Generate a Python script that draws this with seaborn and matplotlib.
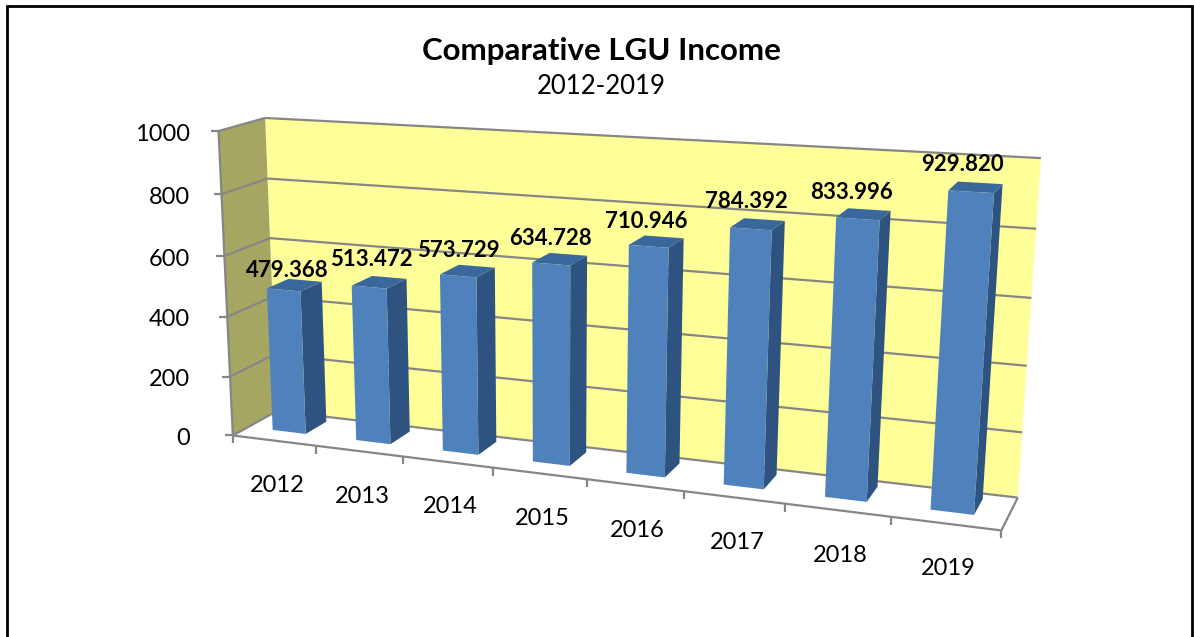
import numpy as np
import pandas as pd
import matplotlib
matplotlib.use("Agg")
import matplotlib.pyplot as plt
from matplotlib.patches import Polygon, Rectangle
from matplotlib.transforms import Transform, IdentityTransform
import seaborn as sns

years = ["2012", "2013", "2014", "2015", "2016", "2017", "2018", "2019"]
income = [479.368, 513.472, 573.729, 634.728, 710.946, 784.392, 833.996, 929.820]
value_ticks = [0, 200, 400, 600, 800, 1000]
title = "Comparative LGU Income"
subtitle = "2012-2019"

W, H = 1194, 637
sns.set_theme(style="white")
plt.rcParams["font.family"] = ["Lato", "DejaVu Sans"]

# --- camera: 3x4 projection fitted to the reference's box corners
# (category position, depth, value) -> reference pixel
anchors = [
    ((0, 0, 0), (237, 433)), ((0, 0, 1000), (215, 132)), ((0, 1, 1000), (269, 117)),
    ((0, 0, 1000), (215, 132)), ((0, 1, 1000), (269, 117)), ((0, 1, 0), (274, 413)),
    ((0, 1, 0), (274, 413)), ((8, 1, 1000), (1041, 158)), ((8, 1, 0), (1017, 495)),
    ((8, 0, 0), (1003, 533)), ((1, 0, 0), (318, 444)), ((7, 0, 0), (891, 517)),
    ((0, 0, 600), (224, 256)), ((8, 1, 800), (1035, 229)),
]
rows = []
for (cx, cd, cz), (u, v) in anchors:
    p = [cx / 8, cd, cz / 1000, 1]
    rows.append(p + [0, 0, 0, 0] + [-u / W * q for q in p])
    rows.append([0, 0, 0, 0] + p + [-v / H * q for q in p])
P = np.linalg.svd(np.array(rows, float))[2][-1].reshape(3, 4)


def project(pos, depth, value):
    """Reference-pixel position of a point in the 3D chart box."""
    pos, depth, value = np.broadcast_arrays(pos, depth, value)
    q = np.stack([np.asarray(pos, float) / 8, depth, np.asarray(value, float) / 1000,
                  np.ones(pos.shape)], axis=-1)
    r = q @ P.T
    return np.stack([r[..., 0] / r[..., 2] * W, r[..., 1] / r[..., 2] * H], axis=-1)


def to_display(xy):
    xy = np.asarray(xy, float)
    return np.stack([xy[..., 0], H - xy[..., 1]], axis=-1)


class FrontFace(Transform):
    """Maps the bar axes (category, value) onto a plane at a fixed depth."""
    input_dims = output_dims = 2
    is_separable = False
    has_inverse = False

    def __init__(self, plane):
        super().__init__()
        self.plane = plane

    def transform_non_affine(self, values):
        values = np.asarray(values, float)
        return to_display(project(values[:, 0] + 0.5, self.plane, values[:, 1]))


fig = plt.figure(figsize=(W / 100, H / 100), dpi=100, facecolor="white")
ax = fig.add_axes([0, 0, 1, 1])

BLUE, SIDE, TOP = "#4F81BD", "#2F5380", "#3A679C"
WALL, LEFTWALL, GRID = "#FFFF99", "#A6A663", "#868686"
D0, D1, BAR_W = 0.34, 0.83, 0.40
label_nudge = [7, -1, 1, 1, 2, -1, 0, -1]

df = pd.DataFrame({"year": years, "income": income})
sns.barplot(data=df, x="year", y="income", color=BLUE, saturation=1, width=BAR_W,
            ax=ax, order=years, linewidth=0)
ax.set_xlim(-0.5, 7.5)
ax.set_ylim(0, 1000)
ax.axis("off")
front = FrontFace(D0)
for bar in ax.patches:
    bar.set_transform(front)
    bar.set_clip_on(False)
    bar.set_zorder(3)
    bar.set_antialiased(True)


def poly(points, color, z=1.0, **kw):
    ax.add_patch(Polygon(to_display(points), closed=True, facecolor=color, edgecolor=kw.pop("edge", "none"),
                         transform=IdentityTransform(), zorder=z, clip_on=False, **kw))


def seg(a, b, z=0.4, lw=1.6, color=GRID):
    ax.plot(*zip(*to_display(np.array([a, b]))), color=color, lw=lw, transform=IdentityTransform(),
            zorder=z, solid_capstyle="butt", clip_on=False)


# Walls
poly([project(0, 1, 0), project(8, 1, 0), project(8, 1, 1000), project(0, 1, 1000)], WALL, 0.1)
poly([project(0, 0, 0), project(0, 1, 0), project(0, 1, 1000), project(0, 0, 1000)], LEFTWALL, 0.2)

# Gridlines and ticks
for v in value_ticks:
    seg(project(0, 0, v), project(0, 1, v))
    seg(project(0, 1, v), project(8, 1, v))
    tick = project(0, 0, v)
    seg(tick, tick + np.array([-8, 0]))
    ax.text(190, H - (tick[1] + 3), str(v), ha="right", va="center", fontsize=17, color="black",
            transform=IdentityTransform())
seg(project(0, 0, 0), project(0, 0, 1000))
seg(project(8, 0, 0), project(8, 1, 0))
seg(project(0, 0, 0), project(8, 0, 0))
for i in range(len(years) + 1):
    tick = project(i, 0, 0)
    seg(tick, tick + np.array([0, 8]))

# Bars: side and top faces, tick and data labels
for i, (year, val, nudge) in enumerate(zip(years, income, label_nudge)):
    l, r = i + 0.5 - BAR_W / 2, i + 0.5 + BAR_W / 2
    poly([project(r, D0, 0), project(r, D1, 0), project(r, D1, val), project(r, D0, val)], SIDE, 2)
    poly([project(l, D0, val), project(r, D0, val), project(r, D1, val), project(l, D1, val)], TOP, 2)
    c = project(i + 0.5, 0, 0)
    ax.text(c[0] + 3, H - (c[1] + 45), year, ha="center", va="center", fontsize=17,
            color="black", transform=IdentityTransform())
    t = project(i + 0.5, D1, val)
    ax.text(t[0] - 18, H - (t[1] - 17 + nudge), f"{val:.3f}", ha="center", va="center", fontsize=16,
            fontweight="bold", color="black", transform=IdentityTransform(), zorder=5)

# Titles
ax.text(601, H - 51, title, ha="center", va="center", fontsize=22.5, fontweight="bold",
        color="black", transform=IdentityTransform())
ax.text(601, H - 87, subtitle, ha="center", va="center", fontsize=18.5, color="black",
        transform=IdentityTransform())

# Chart frame, whose lower edge lies below the picture
ax.add_patch(Rectangle((7, -20), 1185, H + 20 - 6, fill=False, edgecolor="black", lw=2,
                       transform=IdentityTransform(), clip_on=False, zorder=6))

fig.savefig("out.png", dpi=100, facecolor="white")
